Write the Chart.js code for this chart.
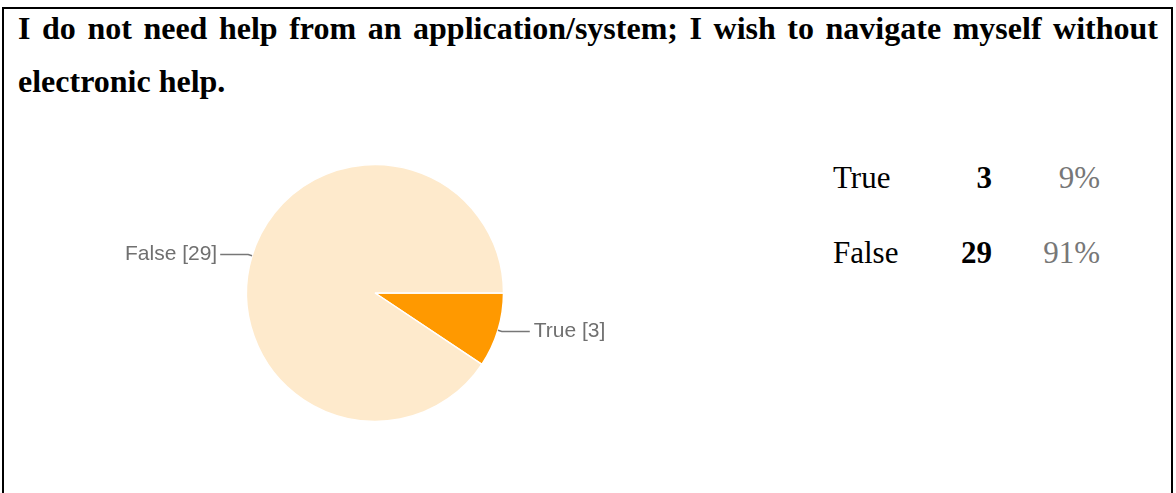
<!DOCTYPE html>
<html lang="en">
<head>
    <meta charset="UTF-8">
    <title>Navigation help survey</title>
    <script src="https://cdn.jsdelivr.net/npm/chart.js"></script>
    <style>
        html, body {
            margin: 0;
            padding: 0;
            background: #fff;
            width: 1176px;
            height: 493px;
            overflow: hidden;
        }
        .frame {
            position: absolute;
            left: 2px;
            top: 7px;
            width: 1171px;
            height: 600px;
            border: 2px solid #000;
            box-sizing: border-box;
        }
        .question {
            position: absolute;
            left: 18px;
            top: 2px;
            width: 1140px;
            font: bold 32px/53px "Liberation Serif", "Times New Roman", serif;
            text-align: justify;
            color: #000;
        }
        .chart-box {
            position: absolute;
            left: 75px;
            top: 143px;
            width: 600px;
            height: 300px;
        }
        .summary-row {
            position: absolute;
            left: 833px;
            width: 267px;
            height: 31px;
            font: 31px/31px "Liberation Serif", "Times New Roman", serif;
            color: #000;
        }
        .summary-row span {
            position: absolute;
            top: 0;
        }
        .summary-row .count {
            right: 108px;
            font-weight: bold;
        }
        .summary-row .pct {
            right: 0;
            color: #777;
        }
    </style>
</head>
<body>
    <div class="frame"></div>
    <div class="question">I do not need help from an application/system; I wish to navigate myself without electronic help.</div>
    <div class="chart-box">
        <canvas id="pieChart"></canvas>
    </div>
    <div id="summary"></div>

    <script>
        // Answers and how many people picked each
        const answers = ['True', 'False'];
        const counts = [3, 29];
        const sliceColors = ['#ff9900', '#feeacc'];

        const total = counts.reduce((a, b) => a + b, 0);

        // Summary table on the right: answer, count, share
        const rowTops = [162, 237];
        const summary = document.getElementById('summary');
        answers.forEach((name, i) => {
            const row = document.createElement('div');
            row.className = 'summary-row';
            row.style.top = rowTops[i] + 'px';
            row.innerHTML = '<span>' + name + '</span>' +
                '<span class="count">' + counts[i] + '</span>' +
                '<span class="pct">' + Math.round(counts[i] / total * 100) + '%</span>';
            summary.appendChild(row);
        });

        // Leader lines with "Name [count]" next to each slice
        const sliceLabels = {
            id: 'sliceLabels',
            afterDatasetsDraw(chart) {
                const ctx = chart.ctx;
                const meta = chart.getDatasetMeta(0);
                ctx.save();
                meta.data.forEach((arc, i) => {
                    const mid = (arc.startAngle + arc.endAngle) / 2;
                    const r = arc.outerRadius;
                    const cos = Math.cos(mid), sin = Math.sin(mid);
                    const x0 = arc.x + cos * r, y0 = arc.y + sin * r;
                    const x1 = arc.x + cos * (r + 4), y1 = arc.y + sin * (r + 4);
                    const right = cos >= 0;
                    const x2 = x1 + (right ? 28 : -28);

                    ctx.strokeStyle = '#777';
                    ctx.lineWidth = 1.5;
                    ctx.beginPath();
                    ctx.moveTo(x0, y0);
                    ctx.lineTo(x1, y1);
                    ctx.lineTo(x2, y1);
                    ctx.stroke();

                    ctx.fillStyle = '#707070';
                    ctx.font = '21px "Liberation Sans", Arial, sans-serif';
                    ctx.textAlign = right ? 'left' : 'right';
                    ctx.textBaseline = 'middle';
                    ctx.fillText(answers[i] + ' [' + counts[i] + ']', x2 + (right ? 4 : -3), y1);
                });
                ctx.restore();
            }
        };

        new Chart(document.getElementById('pieChart'), {
            type: 'pie',
            data: {
                labels: answers,
                datasets: [{
                    data: counts,
                    backgroundColor: sliceColors,
                    borderColor: '#fff',
                    borderWidth: 1.5
                }]
            },
            options: {
                responsive: true,
                maintainAspectRatio: false,
                animation: false,
                rotation: 90,
                radius: 128.5,
                layout: { padding: 0 },
                plugins: {
                    legend: { display: false },
                    tooltip: { enabled: false }
                }
            },
            plugins: [sliceLabels]
        });
    </script>
</body>
</html>
